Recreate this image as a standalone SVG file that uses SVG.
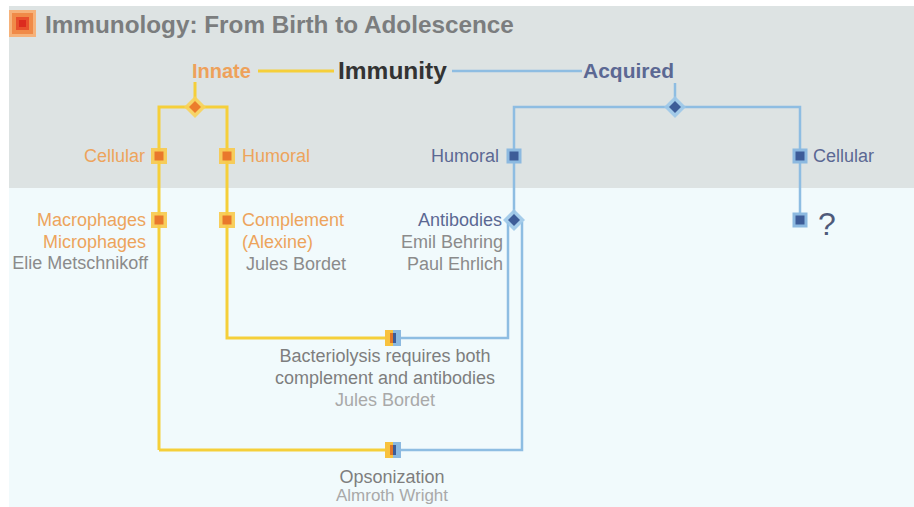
<svg xmlns="http://www.w3.org/2000/svg" width="914" height="507" viewBox="0 0 914 507">
<defs>
<g id="osq"><rect x="-8" y="-8" width="16" height="16" fill="#f8c94a" opacity="0.9"/><rect x="-4.5" y="-4.5" width="9" height="9" fill="#e9782c"/></g>
<g id="bsq"><rect x="-7.5" y="-7.5" width="15" height="15" fill="#8cb9e0"/><rect x="-4.5" y="-4.5" width="9" height="9" fill="#3d5c98"/></g>
<g id="msq"><rect x="-8" y="-8" width="8" height="16" fill="#f8c23e"/><rect x="0" y="-8" width="8" height="16" fill="#8cb9e0"/><rect x="-3" y="-5" width="3" height="10" fill="#e0752a"/><rect x="0" y="-5" width="3" height="10" fill="#3d5c98"/></g>
<g id="odia"><path d="M0,-11 L11,0 L0,11 L-11,0 Z" fill="#f8d15a" opacity="0.9"/><path d="M0,-6 L6,0 L0,6 L-6,0 Z" fill="#ec7d2c"/></g>
<g id="bdia"><path d="M0,-11 L11,0 L0,11 L-11,0 Z" fill="#9cc6e8" opacity="0.9"/><path d="M0,-6 L6,0 L0,6 L-6,0 Z" fill="#3d5c98"/></g>
</defs>
<style>
text{font-family:"Liberation Sans",Arial,sans-serif}
.ttl{font-size:24.3px;font-weight:bold;fill:#7b7d7e}
.top{font-size:21px;font-weight:bold}
.o{font-size:18px;fill:#eda45c}
.b{font-size:18px;fill:#5b6893}
.g{font-size:18px;fill:#8b8b8b}
.lg{font-size:18px;fill:#a9a9a9}
.yl{fill:none;stroke:#f5cf3a;stroke-width:3}
.bl{fill:none;stroke:#8ebde2;stroke-width:2.5}
</style>
<rect x="0" y="0" width="914" height="507" fill="#ffffff"/>
<rect x="9" y="6" width="905" height="182" fill="#dde3e3"/>
<rect x="9" y="188" width="905" height="319" fill="#f1fafc"/>
<g id="title">
<rect x="9" y="10" width="27" height="27" fill="#f6b27a"/>
<rect x="12" y="13" width="21" height="21" fill="#f08a48"/>
<rect x="16" y="17" width="13" height="13" fill="#e8502c"/>
<rect x="19" y="20" width="7" height="7" fill="#dc2a1e"/>
<text class="ttl" x="45" y="33">Immunology: From Birth to Adolescence</text>
</g>
<g id="connectors">
<line class="yl" x1="258" y1="71" x2="334" y2="71"/>
<line class="bl" x1="452" y1="71" x2="582" y2="71"/>
<line class="yl" x1="195" y1="82" x2="195" y2="107"/>
<polyline class="yl" points="159,450 159,107 227,107 227,338 390,338"/>
<line class="yl" x1="159" y1="450" x2="390" y2="450"/>
<line class="bl" x1="675" y1="83" x2="675" y2="107"/>
<polyline class="bl" points="514,220 514,107 800,107 800,220"/>
<polyline class="bl" points="398,338 508,338 508,222"/>
<polyline class="bl" points="398,450 522,450 522,222"/>
</g>
<g id="immunity"><text class="top" x="338" y="79" fill="#333333" style="font-size:24.5px">Immunity</text></g>
<g id="innate">
<text class="top" x="192" y="78" fill="#eea15a" style="font-size:20px">Innate</text>
<use href="#odia" x="195" y="107"/>
</g>
<g id="acquired">
<text class="top" x="583" y="78" fill="#5b6893">Acquired</text>
<use href="#bdia" x="675" y="107"/>
</g>
<g id="innate-cellular">
<use href="#osq" x="159" y="156"/>
<text class="o" x="145" y="162" text-anchor="end">Cellular</text>
</g>
<g id="innate-humoral">
<use href="#osq" x="227" y="156"/>
<text class="o" x="242" y="162">Humoral</text>
</g>
<g id="macrophages">
<use href="#osq" x="159" y="220"/>
<text class="o" x="146" y="226" text-anchor="end">Macrophages</text>
<text class="o" x="146" y="248" text-anchor="end">Microphages</text>
<text class="g" x="148" y="269" text-anchor="end">Elie Metschnikoff</text>
</g>
<g id="complement">
<use href="#osq" x="227" y="220"/>
<text class="o" x="242" y="226">Complement</text>
<text class="o" x="242" y="248">(Alexine)</text>
<text class="g" x="246" y="270">Jules Bordet</text>
</g>
<g id="acquired-humoral">
<use href="#bsq" x="514" y="156"/>
<text class="b" x="499" y="162" text-anchor="end">Humoral</text>
</g>
<g id="antibodies">
<use href="#bdia" x="514" y="220"/>
<text class="b" x="502" y="226" text-anchor="end">Antibodies</text>
<text class="g" x="503" y="248" text-anchor="end">Emil Behring</text>
<text class="g" x="503" y="270" text-anchor="end">Paul Ehrlich</text>
</g>
<g id="acquired-cellular">
<use href="#bsq" x="800" y="156"/>
<text class="b" x="813" y="162">Cellular</text>
</g>
<g id="unknown">
<use href="#bsq" x="800" y="220"/>
<text x="818" y="235" style="font-size:32px;fill:#4f5a7a">?</text>
</g>
<g id="bacteriolysis">
<use href="#msq" x="393" y="338"/>
<text class="g" x="385" y="362" text-anchor="middle" style="fill:#7e7e7e">Bacteriolysis requires both</text>
<text class="g" x="385" y="384" text-anchor="middle" style="fill:#7e7e7e">complement and antibodies</text>
<text class="lg" x="385" y="406" text-anchor="middle">Jules Bordet</text>
</g>
<g id="opsonization">
<use href="#msq" x="393" y="450"/>
<text class="g" x="392" y="483" text-anchor="middle" style="fill:#7e7e7e">Opsonization</text>
<text class="lg" x="392" y="501" text-anchor="middle" style="font-size:17px">Almroth Wright</text>
</g>
</svg>
